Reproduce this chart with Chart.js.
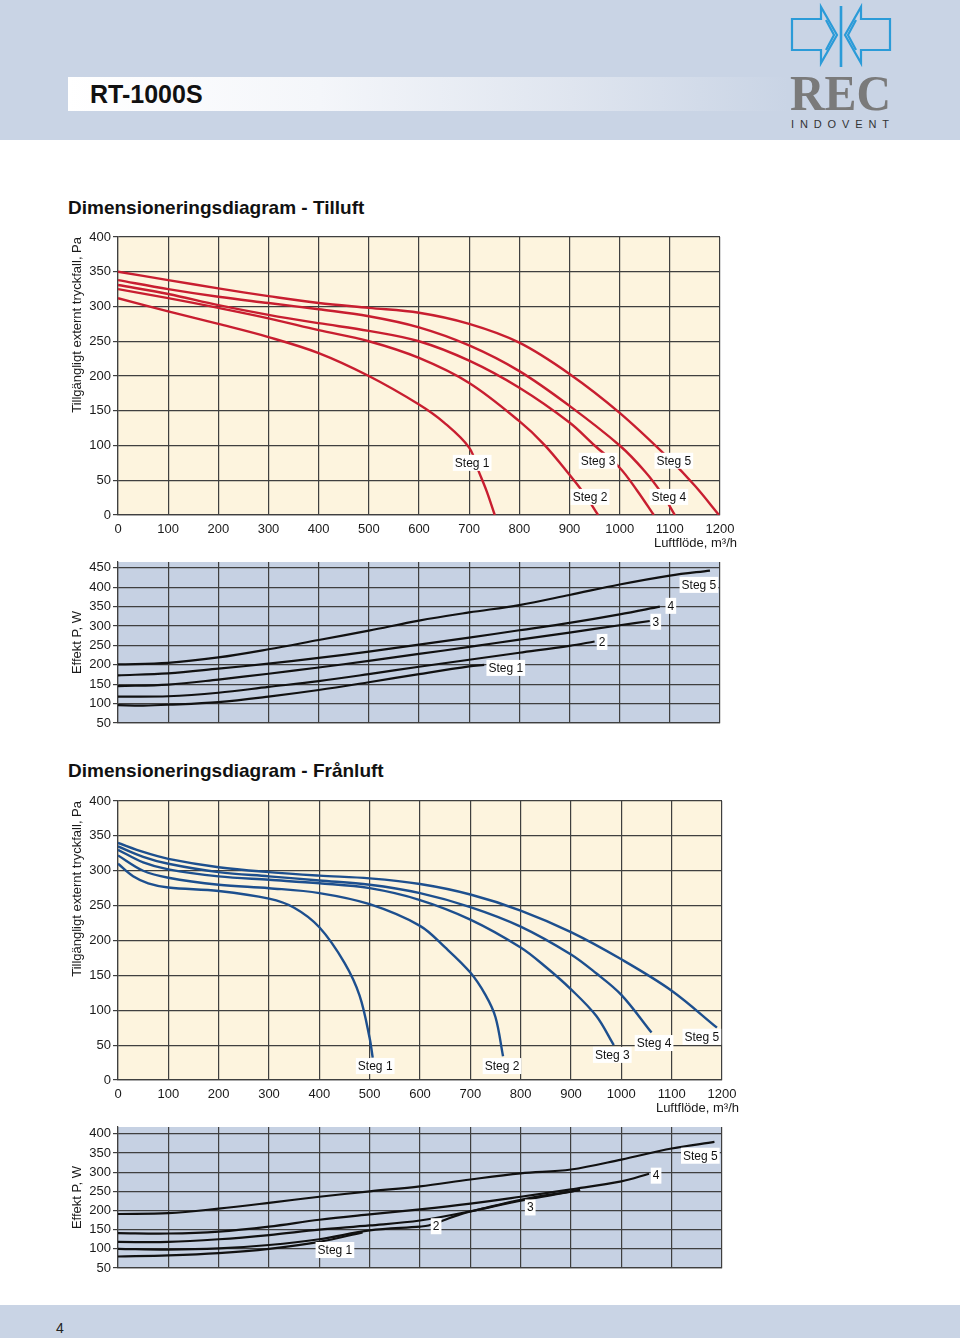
<!DOCTYPE html>
<html lang="sv">
<head>
<meta charset="utf-8">
<title>RT-1000S</title>
<script src="https://cdn.jsdelivr.net/npm/chart.js@4.4.1/dist/chart.umd.min.js"></script>
<style>
html,body{margin:0;padding:0;background:#fff}
body{width:960px;height:1338px;position:relative;overflow:hidden;font-family:"Liberation Sans",Arial,Helvetica,sans-serif;color:#111}
.band{position:absolute;left:0;top:0;width:960px;height:140px;background:#c9d4e5}
.bar{position:absolute;left:68px;top:77px;width:720px;height:34px;background:linear-gradient(90deg,#ffffff 0%,#f4f6fa 35%,#dfe5ef 70%,#c9d4e5 100%)}
.bar h1{margin:0;position:absolute;left:22px;top:0;line-height:35px;font-size:25px;font-weight:bold;color:#111}
.logo{position:absolute;left:780px;top:0;width:120px;height:140px}
h2{position:absolute;left:68px;margin:0;font-size:19px;line-height:22px;font-weight:bold;color:#111}
.foot{position:absolute;left:0;top:1305px;width:960px;height:33px;background:#c9d4e5}
.foot span{position:absolute;left:56px;top:15px;font-size:14px;line-height:16px;color:#222}
canvas{position:absolute;left:60px}
</style>
</head>
<body>
<div class="band"></div>
<div class="bar"><h1>RT-1000S</h1></div>
<svg class="logo" viewBox="780 0 120 140" width="120" height="140">
  <g fill="none" stroke="#2b9bd8" stroke-width="2.2" stroke-linejoin="miter">
    <polygon points="792,19 821,19 821,7 837,35 821,63 821,50 792,50"/>
    <polygon points="890,19 861,19 861,7 845,35 861,63 861,50 890,50"/>
    <polyline points="826,20 834,35 826,50"/>
    <polyline points="856,20 848,35 856,50"/>
    <line x1="841" y1="6" x2="841" y2="67" stroke-width="2.6"/>
  </g>
  <text x="790" y="110" textLength="101" lengthAdjust="spacingAndGlyphs" font-family="'Liberation Serif','DejaVu Serif',serif" font-weight="bold" font-size="50" fill="#7a7a7a">REC</text>
  <text x="791" y="128" textLength="98" lengthAdjust="spacing" font-family="'Liberation Sans',Arial,sans-serif" font-size="11" fill="#333">INDOVENT</text>
</svg>

<h2 style="top:197px">Dimensioneringsdiagram - Tilluft</h2>
<h2 style="top:760px">Dimensioneringsdiagram - Frånluft</h2>

<canvas id="tillPa" width="700" height="335" style="top:225px"></canvas>
<canvas id="tillW" width="700" height="180" style="top:555px"></canvas>
<canvas id="franPa" width="700" height="330" style="top:790px"></canvas>
<canvas id="franW" width="700" height="160" style="top:1120px"></canvas>

<div class="foot"><span>4</span></div>

<script>
// ---------- data ----------
const stepNames = ['Steg 1', 'Steg 2', 'Steg 3', 'Steg 4', 'Steg 5'];
const flowTitle = 'Luftflöde, m³/h';
const paTitle = 'Tillgängligt externt tryckfall, Pa';
const wTitle = 'Effekt P, W';

// tick labels
const flowTicks = [0, 100, 200, 300, 400, 500, 600, 700, 800, 900, 1000, 1100, 1200];
const paTicks = [0, 50, 100, 150, 200, 250, 300, 350, 400];
const tillWTicks = [50, 100, 150, 200, 250, 300, 350, 400, 450];
const franWTicks = [50, 100, 150, 200, 250, 300, 350, 400];

// Tilluft – pressure (Pa) vs flow (m3/h)
const tillPaFlow1 = [0, 100, 200, 300, 400, 500, 600, 650, 700, 720, 735, 751];
const tillPa1     = [312, 293, 275, 256, 233, 200, 159, 133, 97, 61, 34, 0];
const tillPaFlow2 = [0, 100, 200, 300, 400, 500, 600, 700, 800, 850, 900, 930, 957];
const tillPa2     = [325, 312, 298, 283, 266, 250, 226, 190, 135, 101, 58, 30, 0];
const tillPaFlow3 = [0, 100, 200, 300, 400, 500, 600, 700, 800, 900, 950, 1000, 1035, 1068];
const tillPa3     = [331, 318, 302, 288, 276, 265, 250, 222, 183, 133, 100, 68, 35, 0];
const tillPaFlow4 = [0, 100, 200, 300, 400, 500, 600, 700, 800, 900, 1000, 1050, 1085, 1110];
const tillPa4     = [338, 325, 314, 305, 296, 286, 270, 244, 207, 157, 100, 63, 30, 0];
const tillPaFlow5 = [0, 100, 200, 300, 400, 500, 600, 700, 800, 900, 1000, 1100, 1150, 1198];
const tillPa5     = [350, 338, 326, 315, 305, 298, 291, 275, 248, 203, 147, 80, 42, 0];

// Tilluft – power (W)
const tillWFlow1 = [0, 50, 100, 200, 300, 400, 500, 600, 700, 730];
const tillW1     = [96, 95, 97, 104, 118, 135, 155, 176, 196, 200];
const tillWFlow2 = [0, 100, 200, 300, 400, 500, 600, 700, 800, 900, 950];
const tillW2     = [118, 119, 128, 143, 158, 176, 195, 213, 231, 249, 260];
const tillWFlow3 = [0, 100, 200, 300, 400, 500, 600, 700, 800, 900, 1000, 1060];
const tillW3     = [145, 149, 162, 177, 193, 210, 228, 246, 265, 283, 302, 313];
const tillWFlow4 = [0, 100, 200, 300, 400, 500, 600, 700, 800, 900, 1000, 1080];
const tillW4     = [173, 178, 190, 203, 218, 234, 252, 270, 289, 308, 330, 350];
const tillWFlow5 = [0, 100, 200, 300, 400, 500, 600, 700, 800, 900, 1000, 1100, 1180];
const tillW5     = [201, 205, 219, 240, 264, 288, 314, 335, 354, 380, 407, 430, 443];

// Frånluft – pressure (Pa)
const franPaFlow1 = [0, 30, 60, 100, 200, 300, 350, 400, 450, 480, 500, 506];
const franPa1     = [310, 292, 282, 276, 271, 260, 247, 219, 168, 121, 60, 32];
const franPaFlow2 = [0, 50, 100, 200, 300, 400, 500, 600, 650, 700, 730, 750, 765];
const franPa2     = [322, 300, 290, 280, 275, 268, 252, 221, 190, 154, 122, 90, 34];
const franPaFlow3 = [0, 50, 100, 200, 300, 400, 500, 600, 700, 800, 850, 900, 950, 985];
const franPa3     = [330, 312, 302, 292, 287, 282, 275, 258, 230, 190, 162, 130, 92, 50];
const franPaFlow4 = [0, 50, 100, 200, 300, 400, 500, 600, 700, 800, 900, 950, 1000, 1060];
const franPa4     = [335, 320, 310, 298, 292, 286, 280, 268, 248, 220, 180, 153, 122, 68];
const franPaFlow5 = [0, 50, 100, 200, 300, 400, 500, 600, 700, 800, 900, 1000, 1100, 1190];
const franPa5     = [340, 327, 317, 305, 298, 293, 289, 281, 266, 243, 212, 173, 128, 75];

// Frånluft – power (W)
const franWFlow1 = [0, 100, 200, 300, 400, 486];
const franW1     = [80, 83, 89, 100, 118, 143];
const franWFlow2 = [0, 100, 200, 300, 400, 500, 600, 617, 646, 680, 724, 800, 900, 918];
const franW2     = [100, 98, 101, 110, 125, 148, 158, 161, 174, 190, 205, 228, 250, 254];
const franWFlow3 = [0, 100, 200, 300, 400, 500, 600, 700, 800, 900, 918];
const franW3     = [118, 118, 125, 136, 150, 161, 174, 198, 226, 249, 254];
const franWFlow4 = [0, 100, 200, 300, 400, 500, 600, 700, 800, 900, 1000, 1055];
const franW4     = [141, 140, 145, 158, 176, 190, 203, 218, 236, 255, 276, 296];
const franWFlow5 = [0, 100, 200, 300, 400, 500, 600, 700, 800, 900, 1000, 1100, 1185];
const franW5     = [191, 193, 205, 220, 236, 250, 263, 281, 297, 307, 333, 362, 379];

// curve tags (text, anchored at data values)
const tillPaTagText = ['Steg 1', 'Steg 2', 'Steg 3', 'Steg 4', 'Steg 5'];
const tillPaTagFlow = [706, 941, 957, 1098, 1108];
const tillPaTagPa   = [75, 26, 78, 26, 78];
const tillWTagText  = ['Steg 1', '2', '3', '4', 'Steg 5'];
const tillWTagFlow  = [773, 965, 1072, 1102, 1158];
const tillWTagW     = [192, 259, 311, 352, 406];
const franPaTagText = ['Steg 1', 'Steg 2', 'Steg 3', 'Steg 4', 'Steg 5'];
const franPaTagFlow = [511, 763, 982, 1065, 1160];
const franPaTagPa   = [20, 20, 36, 53, 62];
const franWTagText  = ['Steg 1', '2', '3', '4', 'Steg 5'];
const franWTagFlow  = [431, 632, 819, 1069, 1157];
const franWTagW     = [97, 159, 208, 291, 343];

// ---------- rendering ----------
const FONT = '"Liberation Sans", Arial, Helvetica, sans-serif';
Chart.defaults.font.family = FONT;
Chart.defaults.color = '#1a1a1a';
const GRID = '#3f3f3f';
const CREAM = '#fdf4de';
const BLUEBG = '#c6d1e3';
const RED = '#c81e30';
const BLUE = '#1d4f8e';
const BLACK = '#111111';

function pts(xs, ys) { return xs.map((x, i) => ({ x: x, y: ys[i] })); }

const plotBg = {
  id: 'plotBg',
  beforeDraw(chart, args, opts) {
    const a = chart.chartArea, ctx = chart.ctx;
    ctx.save();
    ctx.fillStyle = opts.color;
    ctx.fillRect(a.left, a.top, a.right - a.left, a.bottom - a.top);
    ctx.restore();
  }
};

const tags = {
  id: 'tags',
  afterDatasetsDraw(chart, args, opts) {
    const ctx = chart.ctx, xs = chart.scales.x, ys = chart.scales.y;
    ctx.save();
    ctx.font = '12px ' + FONT;
    ctx.textAlign = 'center';
    ctx.textBaseline = 'middle';
    opts.text.forEach((t, i) => {
      const px = xs.getPixelForValue(opts.xv[i]);
      const py = ys.getPixelForValue(opts.yv[i]);
      const w = ctx.measureText(t).width;
      ctx.fillStyle = '#ffffff';
      ctx.fillRect(px - w / 2 - 2, py - 8, w + 4, 16);
      ctx.fillStyle = '#111';
      ctx.fillText(t, px, py + 0.5);
    });
    ctx.restore();
  },
  afterDraw(chart, args, opts) {
    if (!opts.xTitle) return;
    const ctx = chart.ctx, a = chart.chartArea;
    ctx.save();
    ctx.font = '13px ' + FONT;
    ctx.fillStyle = '#1a1a1a';
    ctx.textAlign = 'right';
    ctx.textBaseline = 'middle';
    ctx.fillText(opts.xTitle, a.right + 17, a.bottom + 28.5);
    ctx.restore();
  }
};

function lineSets(flows, vals, color, width) {
  return flows.map((f, i) => ({
    label: stepNames[i],
    data: pts(f, vals[i]),
    borderColor: color,
    borderWidth: width,
    pointRadius: 0,
    fill: false,
    tension: 0.35
  }));
}

function fixedTicks(list) {
  return function (s) { s.ticks = list.map(v => ({ value: v })); };
}

function makeChart(id, o) {
  const pressure = o.kind === 'pa';
  return new Chart(document.getElementById(id), {
    type: 'line',
    data: { datasets: lineSets(o.flows, o.vals, o.color, o.width) },
    plugins: [plotBg, tags],
    options: {
      responsive: false,
      animation: false,
      devicePixelRatio: 1,
      layout: { padding: { top: o.padTop, right: o.padRight, bottom: o.padBottom, left: 0 } },
      plugins: {
        legend: { display: false },
        tooltip: { enabled: false },
        plotBg: { color: pressure ? CREAM : BLUEBG },
        tags: { text: o.tagText, xv: o.tagX, yv: o.tagY, xTitle: pressure ? flowTitle : null }
      },
      scales: {
        x: {
          type: 'linear', min: 0, max: 1200,
          afterBuildTicks: fixedTicks(flowTicks),
          ticks: { display: pressure, font: { size: 13 }, color: '#1a1a1a', padding: 7, maxRotation: 0, autoSkip: false,
                   callback: v => String(v) },
          grid: { color: GRID, lineWidth: 1.2, drawTicks: false },
          border: { color: GRID, width: 1.2 },
          afterFit(s) { s.height = o.xAxisH; s.paddingLeft = 0; s.paddingRight = 0; }
        },
        y: {
          type: 'linear', min: o.ymin, max: o.ymax,
          afterBuildTicks: fixedTicks(o.yTicks),
          ticks: { font: { size: 13 }, color: '#1a1a1a', padding: 2, autoSkip: false, callback: v => String(v) },
          grid: { color: GRID, lineWidth: 1.2, tickLength: 5, tickColor: GRID },
          border: { color: GRID, width: 1.2 },
          title: {
            display: true, text: o.yTitle, align: o.yAlign,
            font: { size: 13 }, color: '#1a1a1a', padding: { top: 10, bottom: 0 }
          },
          afterFit(s) { s.width = 58; s.paddingTop = 0; s.paddingBottom = 0; }
        }
      }
    }
  });
}

makeChart('tillPa', {
  kind: 'pa', color: RED, width: 2.4,
  flows: [tillPaFlow1, tillPaFlow2, tillPaFlow3, tillPaFlow4, tillPaFlow5],
  vals: [tillPa1, tillPa2, tillPa3, tillPa4, tillPa5],
  ymin: 0, ymax: 400, yTicks: paTicks, yTitle: paTitle, yAlign: 'end',
  padTop: 12, padRight: 40, padBottom: 0, xAxisH: 45,
  tagText: tillPaTagText, tagX: tillPaTagFlow, tagY: tillPaTagPa
});
makeChart('tillW', {
  kind: 'w', color: BLACK, width: 2.2,
  flows: [tillWFlow1, tillWFlow2, tillWFlow3, tillWFlow4, tillWFlow5],
  vals: [tillW1, tillW2, tillW3, tillW4, tillW5],
  ymin: 50, ymax: 465, yTicks: tillWTicks, yTitle: wTitle, yAlign: 'center',
  padTop: 7, padRight: 40, padBottom: 12, xAxisH: 0,
  tagText: tillWTagText, tagX: tillWTagFlow, tagY: tillWTagW
});
makeChart('franPa', {
  kind: 'pa', color: BLUE, width: 2.4,
  flows: [franPaFlow1, franPaFlow2, franPaFlow3, franPaFlow4, franPaFlow5],
  vals: [franPa1, franPa2, franPa3, franPa4, franPa5],
  ymin: 0, ymax: 400, yTicks: paTicks, yTitle: paTitle, yAlign: 'end',
  padTop: 11, padRight: 38, padBottom: 0, xAxisH: 40,
  tagText: franPaTagText, tagX: franPaTagFlow, tagY: franPaTagPa
});
makeChart('franW', {
  kind: 'w', color: BLACK, width: 2.2,
  flows: [franWFlow1, franWFlow2, franWFlow3, franWFlow4, franWFlow5],
  vals: [franW1, franW2, franW3, franW4, franW5],
  ymin: 50, ymax: 418, yTicks: franWTicks, yTitle: wTitle, yAlign: 'center',
  padTop: 7, padRight: 38, padBottom: 12, xAxisH: 0,
  tagText: franWTagText, tagX: franWTagFlow, tagY: franWTagW
});
</script>
</body>
</html>
